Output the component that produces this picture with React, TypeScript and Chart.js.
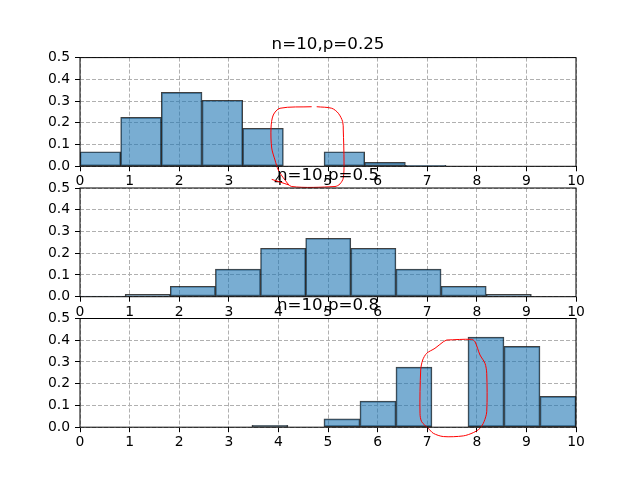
import React, { useEffect, useRef } from 'react';
import { Chart, registerables } from 'chart.js';

Chart.register(...registerables);
Chart.defaults.font.family = '"DejaVu Sans", sans-serif';

// ---- data ----
const titles = ['n=10,p=0.25', 'n=10,p=0.5', 'n=10,p=0.8'];
const xTickLabels = ['0', '1', '2', '3', '4', '5', '6', '7', '8', '9', '10'];
const yTickLabels = ['0.0', '0.1', '0.2', '0.3', '0.4', '0.5'];

// bin edges and density heights of each histogram
const edgesP025 = [0, 0.82, 1.64, 2.46, 3.28, 4.1, 4.92, 5.74, 6.56, 7.38, 8.2];
const densityP025 = [0.067, 0.225, 0.34, 0.304, 0.175, 0, 0.067, 0.018, 0.005, 0];

const edgesP05 = [0, 0.91, 1.82, 2.73, 3.64, 4.55, 5.46, 6.37, 7.28, 8.19, 9.1];
const densityP05 = [0.003, 0.011, 0.048, 0.127, 0.223, 0.269, 0.223, 0.127, 0.048, 0.011];

const edgesP08 = [2.74, 3.466, 4.192, 4.918, 5.644, 6.37, 7.096, 7.822, 8.548, 9.274, 10];
const densityP08 = [0, 0.009, 0, 0.038, 0.12, 0.276, 0, 0.414, 0.372, 0.142];

// red hand-drawn highlight loops (data coordinates)
const highlightTop = [
  { x: 4.772, y: 0.274 }, { x: 5.075, y: 0.267 }, { x: 5.208, y: 0.244 }, { x: 5.296, y: 0.205 },
  { x: 5.308, y: 0.167 }, { x: 5.323, y: 0.02 }, { x: 5.308, y: -0.054 }, { x: 5.242, y: -0.081 },
  { x: 5.141, y: -0.093 }, { x: 4.268, y: -0.093 }, { x: 4.133, y: -0.063 }, { x: 3.998, y: -0.017 },
  { x: 3.931, y: 0.029 }, { x: 3.865, y: 0.084 }, { x: 3.851, y: 0.176 }, { x: 3.897, y: 0.236 },
  { x: 4.032, y: 0.267 }, { x: 4.671, y: 0.274 },
];
const highlightTopTail = [{ x: 3.865, y: -0.06 }, { x: 4.215, y: -0.086 }];
const highlightBottom = [
  { x: 7.393, y: 0.401 }, { x: 7.897, y: 0.404 }, { x: 7.964, y: 0.393 }, { x: 8.065, y: 0.332 },
  { x: 8.165, y: 0.294 }, { x: 8.2, y: 0.248 }, { x: 8.2, y: 0.071 }, { x: 8.145, y: 0.025 },
  { x: 8.065, y: -0.005 }, { x: 7.929, y: -0.025 }, { x: 7.728, y: -0.04 }, { x: 7.325, y: -0.043 },
  { x: 7.123, y: -0.028 }, { x: 7.022, y: -0.005 }, { x: 6.889, y: 0.025 }, { x: 6.855, y: 0.064 },
  { x: 6.869, y: 0.263 }, { x: 6.909, y: 0.309 }, { x: 6.99, y: 0.34 }, { x: 7.157, y: 0.363 },
  { x: 7.325, y: 0.393 }, { x: 7.393, y: 0.401 },
];

// ---- layout (figure pixel positions of each axes box) ----
const axesTop = [57.6, 188.0, 318.5];
const axesBottom = [166.3, 296.7, 427.2];
const axesLeft = 80;
const axesRight = 576;
const X_AXIS_H = 30;

const framePlugin = {
  id: 'axesFrame',
  afterDraw(chart: any) {
    const { ctx, chartArea } = chart;
    ctx.save();
    ctx.strokeStyle = '#000';
    ctx.lineWidth = 1;
    ctx.strokeRect(chartArea.left, chartArea.top, chartArea.right - chartArea.left, chartArea.bottom - chartArea.top);
    ctx.restore();
  },
};

const titlePlugin = {
  id: 'axesTitle',
  afterDraw(chart: any, _args: any, opts: any) {
    const { ctx, chartArea } = chart;
    ctx.save();
    ctx.font = '16.7px "DejaVu Sans", sans-serif';
    ctx.fillStyle = '#000';
    ctx.textAlign = 'center';
    ctx.textBaseline = 'alphabetic';
    ctx.fillText(opts.text, (chartArea.left + chartArea.right) / 2, chartArea.top - 8.3);
    ctx.restore();
  },
};

function barData(edges: number[], values: number[]) {
  return values.map((v, i) => ({ x: (edges[i] + edges[i + 1]) / 2, y: v }));
}

function loopDataset(points: { x: number; y: number }[]) {
  return {
    type: 'line',
    data: points,
    borderColor: '#ff0000',
    borderWidth: 1,
    pointRadius: 0,
    fill: false,
    tension: 0.3,
    capBezierPoints: false,
    clip: false,
    order: -1,
  };
}

const gridOpts = {
  color: '#b0b0b0',
  lineWidth: 1,
  tickLength: 5,
  tickColor: '#000',
  tickWidth: 1,
  offset: false,
};

function makeConfig(idx: number, edges: number[], values: number[], loops: any[]) {
  return {
    type: 'bar',
    data: {
      datasets: [
        ...loops.map(loopDataset),
        {
          type: 'bar',
          data: barData(edges, values),
          backgroundColor: 'rgba(31,119,180,0.6)',
          borderColor: 'rgba(0,0,0,0.75)',
          borderWidth: 1,
          borderSkipped: false,
          barPercentage: 1,
          categoryPercentage: 1,
          grouped: false,
          order: 1,
        },
      ],
    },
    options: {
      responsive: false,
      animation: false,
      events: [],
      layout: {
        padding: {
          left: 0,
          right: 640 - axesRight,
          top: axesTop[idx],
          bottom: 480 - axesBottom[idx] - X_AXIS_H,
        },
      },
      plugins: {
        legend: { display: false },
        tooltip: { enabled: false },
        axesTitle: { text: titles[idx] },
      },
      scales: {
        x: {
          type: 'linear', min: 0, max: 10, offset: false, z: 1,
          afterFit: (s: any) => { s.height = X_AXIS_H; },
          ticks: { stepSize: 1, autoSkip: false, maxRotation: 0, padding: 2, color: '#000', font: { size: 13.9 },
            callback: (_v: any, i: number) => xTickLabels[i] },
          grid: gridOpts,
          border: { display: false, dash: [4, 2] },
        },
        y: {
          type: 'linear', min: 0, max: 0.5, z: 1,
          afterFit: (s: any) => { s.width = axesLeft; },
          ticks: { stepSize: 0.1, padding: 5, color: '#000', font: { size: 13.9 },
            callback: (_v: any, i: number) => yTickLabels[i] },
          grid: gridOpts,
          border: { display: false, dash: [4, 2] },
        },
      },
    },
    plugins: [framePlugin, titlePlugin],
  };
}

export default function App() {
  const c1 = useRef<HTMLCanvasElement>(null);
  const c2 = useRef<HTMLCanvasElement>(null);
  const c3 = useRef<HTMLCanvasElement>(null);

  useEffect(() => {
    const charts = [
      new Chart(c1.current as any, makeConfig(0, edgesP025, densityP025, [highlightTop, highlightTopTail]) as any),
      new Chart(c2.current as any, makeConfig(1, edgesP05, densityP05, []) as any),
      new Chart(c3.current as any, makeConfig(2, edgesP08, densityP08, [highlightBottom]) as any),
    ];
    return () => charts.forEach((c) => c.destroy());
  }, []);

  const cs: React.CSSProperties = { position: 'absolute', left: 0, top: 0, width: 640, height: 480 };
  return (
    <div style={{ position: 'absolute', left: 0, top: 0, width: 640, height: 480, background: '#fff' }}>
      <canvas ref={c1} width={640} height={480} style={cs} />
      <canvas ref={c2} width={640} height={480} style={cs} />
      <canvas ref={c3} width={640} height={480} style={cs} />
    </div>
  );
}
